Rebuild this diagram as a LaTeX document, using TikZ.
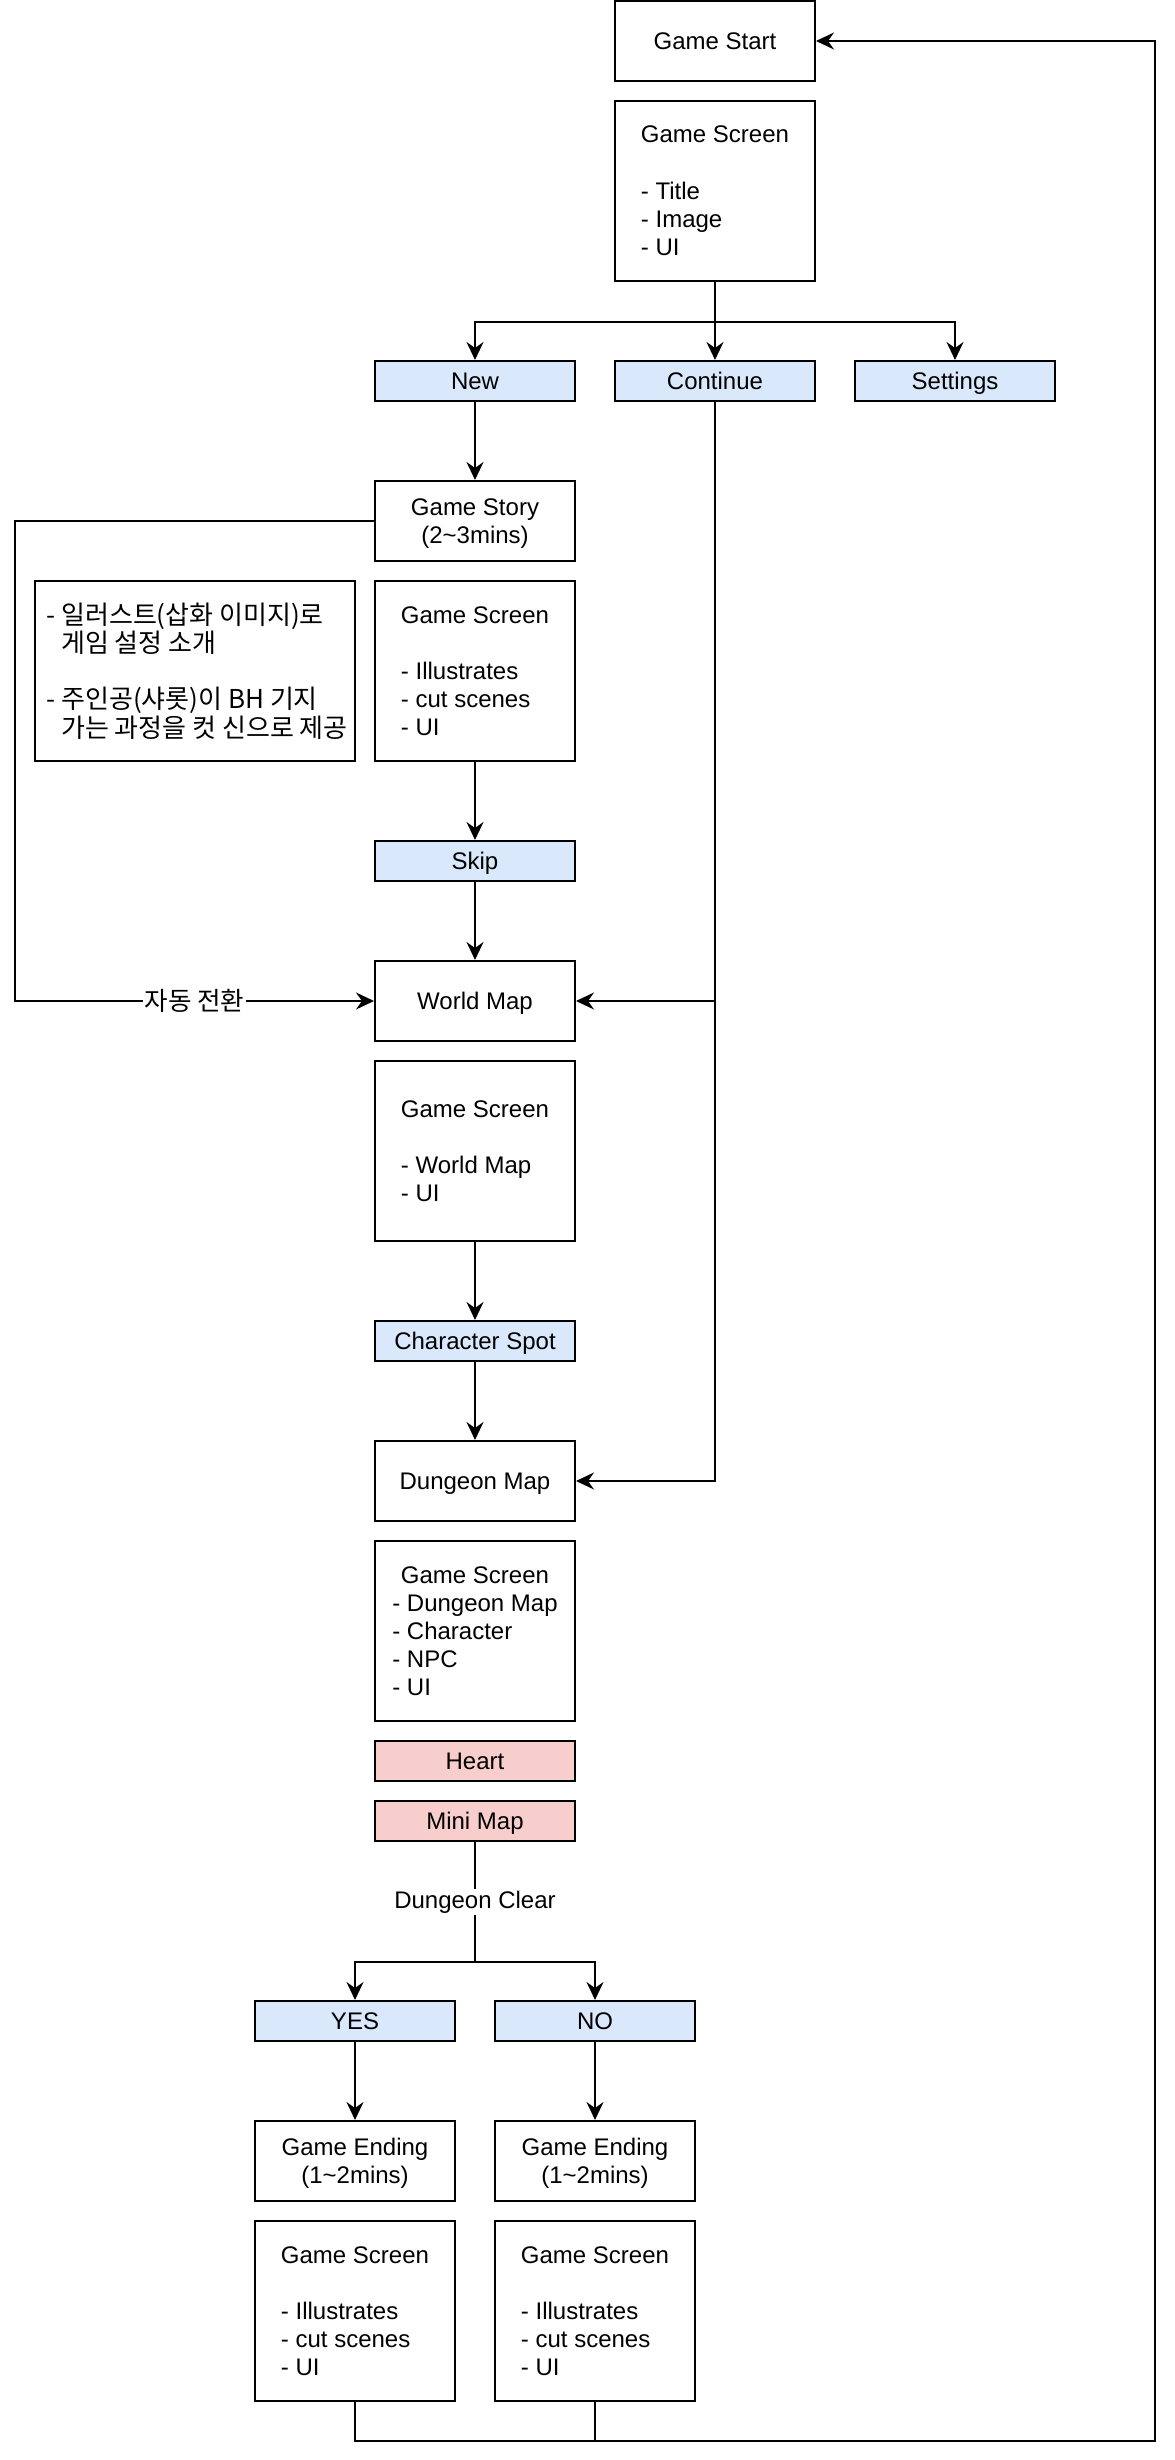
\documentclass[tikz,border=0pt]{standalone}
\usepackage{fontspec}
\setmainfont{Liberation Sans}
\newfontfamily\kr{Noto Sans CJK KR}
\usetikzlibrary{arrows.meta}
\definecolor{bluef}{HTML}{DAE8FC}
\definecolor{redf}{HTML}{F8CECC}
\newcommand{\fs}{\fontsize{12}{14.1}\selectfont}
\newcommand{\tst}{\rule{0pt}{10.9pt}}
\newcommand{\bst}{\rule[-2.5pt]{0pt}{2.5pt}}
\newlength{\dmw}
\tikzset{
  box/.style={draw, line width=1pt, rectangle, minimum width=100pt, minimum height=40pt, inner sep=0pt, font=\fs, align=center},
  one/.style={box, text height=10.9pt, text depth=2.5pt},
  tall/.style={box, minimum height=90pt, align=left},
  btn/.style={one, minimum height=20pt, fill=bluef},
  rbtn/.style={one, minimum height=20pt, fill=redf},
  arr/.style={line width=1pt, -{Stealth[length=9pt,width=8.5pt,inset=3pt]}},
  ln/.style={line width=1pt},
  lbl/.style={fill=white, inner sep=1pt, font=\fs}
}
\begin{document}
\settowidth{\dmw}{\fs - Dungeon Map}
\begin{tikzpicture}[x=1pt,y=-1pt]
\useasboundingbox (0,0) rectangle (587,1230);
\fill[white] (0,0) rectangle (587,1230);

\node[one] (gstart) at (357.5,20.5) {Game Start};
\node[tall] (gs1) at (357.5,95.5) {\tst Game Screen\\[14.1pt]- Title\\- Image\\- UI\bst};
\node[btn] (new) at (237.5,190.5) {New};
\node[btn] (cont) at (357.5,190.5) {Continue};
\node[btn] (sett) at (477.5,190.5) {Settings};
\node[box] (story) at (237.5,260.5) {\tst Game Story\\(2\textasciitilde 3mins)\bst};
\node[draw, line width=1pt, minimum width=160pt, minimum height=90pt, inner sep=0pt] (note) at (97.5,335.5) {};
\node[anchor=west, align=left, inner sep=0pt, font=\kr\fontsize{13}{14.1}\selectfont] (notetxt) at ([xshift=6pt]note.west) {- 일러스트(삽화 이미지)로\\\hphantom{-}\ 게임 설정 소개\\[14.1pt]- 주인공(샤롯)이 BH 기지\\\hphantom{-}\ 가는 과정을 컷 신으로 제공};
\node[tall] (gs2) at (237.5,335.5) {\tst Game Screen\\[14.1pt]- Illustrates\\- cut scenes\\- UI\bst};
\node[btn] (skip) at (237.5,430.5) {Skip};
\node[one] (world) at (237.5,500.5) {World Map};
\node[tall] (gs3) at (237.5,575.5) {\tst Game Screen\\[14.1pt]- World Map\\- UI\bst};
\node[btn] (cspot) at (237.5,670.5) {Character Spot};
\node[one] (dmap) at (237.5,740.5) {Dungeon Map};
\node[tall] (gs4) at (237.5,815.5) {\tst\makebox[\dmw][c]{Game Screen}\\- Dungeon Map\\- Character\\- NPC\\- UI\bst};
\node[rbtn] (heart) at (237.5,880.5) {Heart};
\node[rbtn] (mini) at (237.5,910.5) {Mini Map};
\node[btn] (yes) at (177.5,1010.5) {YES};
\node[btn] (no) at (297.5,1010.5) {NO};
\node[box] (yend) at (177.5,1080.5) {\tst Game Ending\\(1\textasciitilde 2mins)\bst};
\node[box] (nend) at (297.5,1080.5) {\tst Game Ending\\(1\textasciitilde 2mins)\bst};
\node[tall] (ys) at (177.5,1155.5) {\tst Game Screen\\[14.1pt]- Illustrates\\- cut scenes\\- UI\bst};
\node[tall] (ns) at (297.5,1155.5) {\tst Game Screen\\[14.1pt]- Illustrates\\- cut scenes\\- UI\bst};

\draw[arr] (gs1.south) -- (cont.north);
\draw[arr] (gs1.south) -- ++(0,20) -| (new.north);
\draw[arr] (gs1.south) -- ++(0,20) -| (sett.north);
\draw[arr] (new) -- (story);
\coordinate (lc) at (7.5,260.5);
\draw[arr] (story.west) -- (lc) |- node[lbl, pos=0.75, font=\kr\fontsize{12.8}{14}\selectfont] (auto) {자동 전환} (world.west);
\draw[arr] (gs2) -- (skip);
\draw[arr] (skip) -- (world);
\draw[arr] (cont.south) |- (world.east);
\draw[arr] (cont.south) |- (dmap.east);
\draw[arr] (gs3) -- (cspot);
\draw[arr] (cspot) -- (dmap);
\draw[arr] (mini.south) -- ++(0,60) -| (yes.north);
\draw[arr] (mini.south) -- ++(0,60) -| (no.north);
\node[lbl] (dc) at (237.5,951) {Dungeon Clear};
\draw[arr] (yes) -- (yend);
\draw[arr] (no) -- (nend);
\coordinate (br) at (577.5,1220.5);
\draw[arr] (ys.south) |- (br) |- (gstart.east);
\draw[ln] (ns.south) -- ++(0,20);
\end{tikzpicture}
\end{document}
